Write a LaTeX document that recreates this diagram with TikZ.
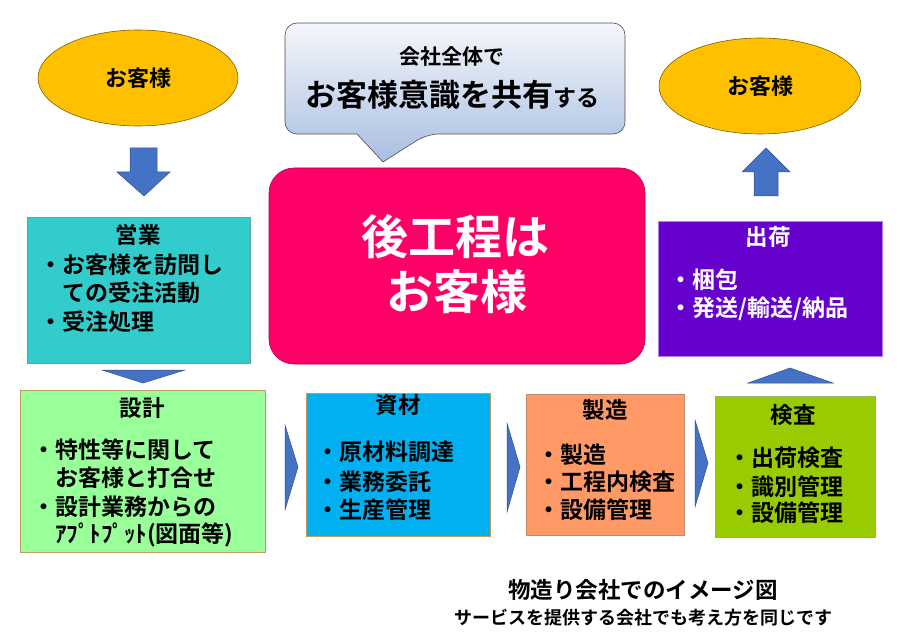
\documentclass[tikz,border=0pt]{standalone}
\usepackage{fontspec}
\setmainfont{Noto Sans CJK JP}[BoldFont={Noto Sans CJK JP Bold}]
\usetikzlibrary{shapes.geometric}
\definecolor{custgold}{HTML}{FFC000}
\definecolor{custline}{HTML}{7F6000}
\definecolor{teal1}{HTML}{33CCCC}
\definecolor{green1}{HTML}{99FF99}
\definecolor{blue1}{HTML}{00B0F0}
\definecolor{orange1}{HTML}{FF9966}
\definecolor{olive1}{HTML}{99CC00}
\definecolor{purple1}{HTML}{6600CC}
\definecolor{pink1}{HTML}{FF0066}
\definecolor{arrowfill}{HTML}{4472C4}
\definecolor{arrowline}{HTML}{2F528F}
\definecolor{boxline}{HTML}{BF9B5F}
\definecolor{calltop}{HTML}{F4F7FC}
\definecolor{callmid}{HTML}{B4C7E7}
\definecolor{callbot}{HTML}{A9BEE2}
\newcommand\myfs[1]{\fontsize{#1}{#1}\selectfont\bfseries}
\begin{document}
\begin{tikzpicture}[x=1pt,y=-1pt,
  box/.style={draw=boxline, line width=0.6pt, inner sep=0pt},
  cust/.style={ellipse, draw=custline, line width=0.6pt, fill=custgold, inner sep=0pt},
  blk/.style={fill=arrowfill, draw=arrowline, line width=0.5pt, line join=miter},
  ttl/.style={inner sep=0pt, font=\myfs{22.5}},
  itm/.style={inner sep=0pt, anchor=west, font=\myfs{23}},
  ]
\useasboundingbox (0,0) rectangle (909,644);

% customers
\node[cust, minimum width=200, minimum height=96] (custL) at (138,78) {\myfs{22}お客様};
\node[cust, minimum width=202, minimum height=96] (custR) at (760,86) {\myfs{22}お客様};

% callout
\shade[top color=calltop, middle color=callmid, bottom color=callbot, draw=black!70, line width=0.6pt]
  [rounded corners=12] (285,80) |- (625,23) |- (427,134) [sharp corners] -- (383,162) -- (357,134) [rounded corners=12] -| cycle;
\node[inner sep=0pt] (callA) at (452,57) {\myfs{21}会社全体で};
\node[inner sep=0pt] (callB) at (452,95) {\myfs{31}お客様意識を共有\myfs{23}する};

% central pink box
\node[fill=pink1, draw=pink1!70!black, line width=0.6pt, rounded corners=25,
      minimum width=376, minimum height=196, inner sep=0pt] (center) at (457,266) {};
\node[inner sep=0pt, text=white] (cenA) at (455,237) {\myfs{47}後工程は};
\node[inner sep=0pt, text=white] (cenB) at (457,292) {\myfs{47}お客様};

% big arrows
\draw[blk] (130,148) -- (157,148) -- (157,172) -- (170,172) -- (144,196) -- (117,172) -- (130,172) -- cycle;
\draw[blk] (754,196) -- (778,196) -- (778,172) -- (790,172) -- (766,148) -- (742,172) -- (754,172) -- cycle;

% 営業
\node[box, draw=teal1!60!black!70, fill=teal1, minimum width=223, minimum height=146] (eigyo) at (138.5,290) {};
\node[ttl] (eigyoT) at (138,235) {営業};
\node[itm] (eigyo1) at (39,265) {・お客様を訪問し};
\node[itm] (eigyo2) at (62,293) {ての受注活動};
\node[itm] (eigyo3) at (39,322) {・受注処理};
\draw[blk] (102,370) -- (185,370) -- (143,383) -- cycle;

% 設計
\node[box, fill=green1, minimum width=245, minimum height=162] (sekkei) at (142.5,471) {};
\node[ttl] (sekkeiT) at (142,408) {設計};
\node[itm] (sekkei1) at (32,450) {・特性等に関して};
\node[itm] (sekkei2) at (55,478) {お客様と打合せ};
\node[itm] (sekkei3) at (32,507) {・設計業務からの};
\node[itm] (sekkei4) at (55,535) {ｱﾌﾟﾄﾌﾟｯﾄ(図面等)};
\draw[blk] (285,425) -- (298,467) -- (285,510) -- cycle;

% 資材
\node[box, fill=blue1, minimum width=184, minimum height=143] (shizai) at (398,464.5) {};
\node[ttl] (shizaiT) at (398,405) {資材};
\node[itm] (shizai1) at (316,452) {・原材料調達};
\node[itm] (shizai2) at (316,482) {・業務委託};
\node[itm] (shizai3) at (316,510) {・生産管理};
\draw[blk] (507,423) -- (520,467) -- (507,512) -- cycle;

% 製造
\node[box, draw=orange1!70!black!80, fill=orange1, minimum width=158, minimum height=141] (seizo) at (605,464.5) {};
\node[ttl] (seizoT) at (605,410) {製造};
\node[itm] (seizo1) at (537,455) {・製造};
\node[itm] (seizo2) at (537,482) {・工程内検査};
\node[itm] (seizo3) at (537,510) {・設備管理};
\draw[blk] (695,420) -- (708,463) -- (695,507) -- cycle;

% 検査
\node[box, draw=olive1!60!black!60, fill=olive1, minimum width=160, minimum height=141] (kensa) at (795,466.5) {};
\node[ttl] (kensaT) at (793,415) {検査};
\node[itm] (kensa1) at (728,458) {・出荷検査};
\node[itm] (kensa2) at (728,487) {・識別管理};
\node[itm] (kensa3) at (728,513) {・設備管理};
\draw[blk] (748,383) -- (833,383) -- (790,368) -- cycle;

% 出荷
\node[box, draw=purple1!50!white, fill=purple1, minimum width=224, minimum height=135] (shukka) at (770,288.5) {};
\node[ttl, text=white] (shukkaT) at (768,237) {出荷};
\node[itm, text=white] (shukka1) at (669,280) {・梱包};
\node[itm, text=white] (shukka2) at (669,309) {・発送/輸送/納品};

% caption
\node[inner sep=0pt] (cap1) at (643,590) {\myfs{22.5}物造り会社でのイメージ図};
\node[inner sep=0pt] (cap2) at (643,618) {\myfs{18}サービスを提供する会社でも考え方を同じです};
\end{tikzpicture}
\end{document}
